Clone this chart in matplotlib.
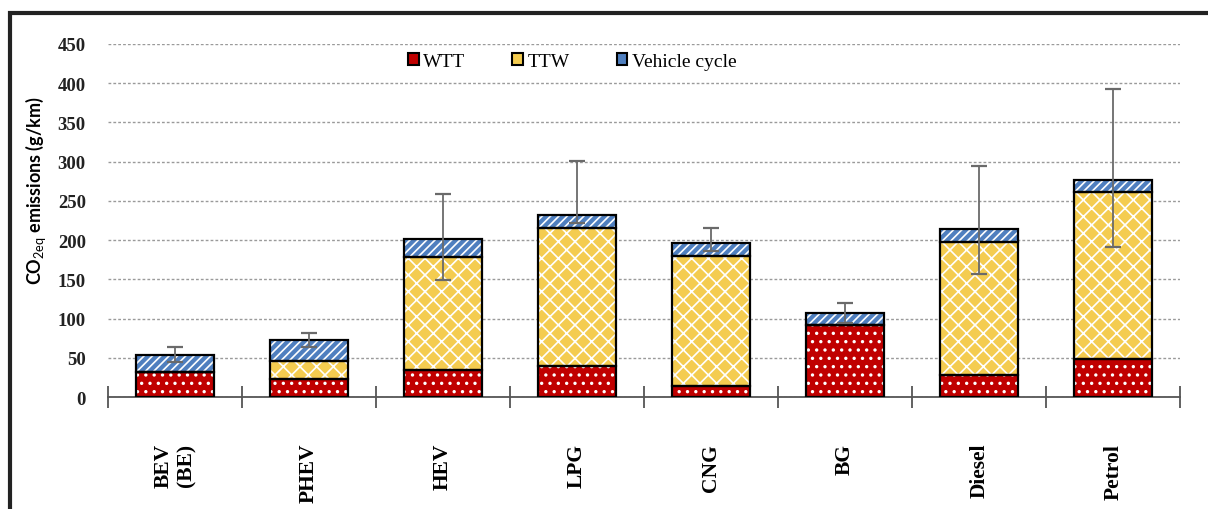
# Life-cycle CO2eq emissions per vehicle/fuel type, stacked by stage.
import matplotlib
matplotlib.use("Agg")
import matplotlib.pyplot as plt
from matplotlib.patches import Patch, Rectangle
import numpy as np

categories = ["BEV\n(BE)", "PHEV", "HEV", "LPG", "CNG", "BG", "Diesel", "Petrol"]
wtt = [32, 23, 34, 39, 14, 92, 28, 48]
ttw = [0, 23, 144, 176, 166, 0, 170, 213]
vehicle_cycle = [22, 27, 24, 17, 16, 15, 16, 16]
err_lower = [10, 9, 53, 10, 10, 13, 57, 86]
err_upper = [10, 9, 57, 69, 20, 13, 81, 116]
yticks = [0, 50, 100, 150, 200, 250, 300, 350, 400, 450]

plt.rcParams["hatch.linewidth"] = 1.2
plt.rcParams["mathtext.fontset"] = "custom"
plt.rcParams["mathtext.rm"] = "Lato"

fig = plt.figure(figsize=(12.08, 5.10), dpi=100)
ax = fig.add_axes([0.0894, 0.2196, 0.8876, 0.6922])

x = np.arange(len(categories))
width = 0.58
wtt = np.array(wtt)
ttw = np.array(ttw)
vehicle_cycle = np.array(vehicle_cycle)

layers = [
    ("WTT", wtt, np.zeros(len(x)), "#C00000", ".."),
    ("TTW", ttw, wtt, "#F4CC50", "xx"),
    ("Vehicle cycle", vehicle_cycle, wtt + ttw, "#4F7FBF", "////"),
]
for name, vals, bottom, color, hatch in layers:
    ax.bar(x, vals, width, bottom=bottom, color=color, edgecolor="white",
           hatch=hatch, linewidth=0, zorder=2)
    ax.bar(x, vals, width, bottom=bottom, fill=False, edgecolor="black",
           linewidth=1.6, zorder=3)

totals = wtt + ttw + vehicle_cycle
ax.errorbar(x, totals, yerr=[err_lower, err_upper], fmt="none",
            ecolor="#6a6a6a", elinewidth=1.3, capsize=6, capthick=1.6,
            zorder=4)

ax.set_xlim(-0.5, len(categories) - 0.5)
ax.set_ylim(0, 450)
ax.set_yticks(yticks)
ax.yaxis.grid(True, linestyle=(0, (2, 1.5)), color="#9a9a9a", linewidth=1.0)
ax.set_axisbelow(True)
for side in ["left", "right", "top"]:
    ax.spines[side].set_visible(False)
ax.spines["bottom"].set_color("#555555")
ax.spines["bottom"].set_linewidth(1.3)

ax.tick_params(axis="y", length=0, pad=16)
for lab in ax.get_yticklabels():
    lab.set_fontfamily("Liberation Serif")
    lab.set_fontweight("bold")
    lab.set_fontsize(13.5)
    lab.set_color("#222222")

ax.set_xticks(x)
ax.set_xticklabels(categories, rotation=90, va="top", ha="center",
                   multialignment="center", fontfamily="Liberation Serif",
                   fontweight="bold", fontsize=15.5)
ax.tick_params(axis="x", which="major", length=0, pad=33)
ax.set_xticks(np.arange(-0.5, len(categories)), minor=True)
ax.tick_params(axis="x", which="minor", direction="inout", length=16,
               width=1.3, color="#555555")

fig.text(36 / 1208, 0.627, r"CO$_{\mathrm{2eq}}$ emissions (g/km)",
         rotation=90, ha="center", va="center", fontfamily="Lato",
         fontweight="bold", fontsize=13)

handles = [Patch(facecolor=c, edgecolor="black", linewidth=1.5, label=n)
           for n, _, _, c, _ in layers]
ax.legend(handles=handles, loc="center", bbox_to_anchor=(0.433, 0.95),
          ncol=3, frameon=False, handlelength=0.55, handleheight=0.55,
          handletextpad=0.25, columnspacing=2.4,
          prop={"family": "Liberation Serif", "size": 14})

fig.patches.append(Rectangle((10 / 1208, -0.1), 1.2, 0.1 + (510 - 14) / 510,
                             transform=fig.transFigure, fill=False,
                             edgecolor="#222222", linewidth=3))

fig.savefig("out.png", dpi=100)
